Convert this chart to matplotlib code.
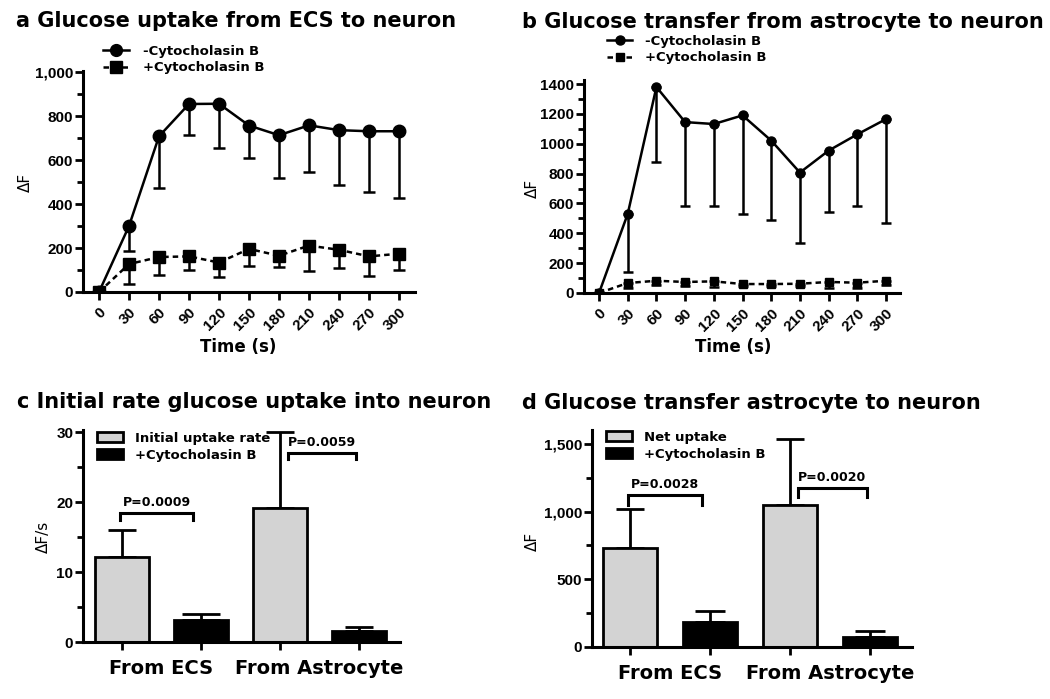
import matplotlib
matplotlib.use("Agg")
import matplotlib.pyplot as plt
from matplotlib.lines import Line2D
from matplotlib.ticker import MultipleLocator, FuncFormatter

# ---------------- data ----------------
time_s = [0, 30, 60, 90, 120, 150, 180, 210, 240, 270, 300]

a_minus_mean = [0, 300, 708, 855, 856, 757, 713, 758, 736, 731, 731]
a_minus_err = [0, 113, 234, 142, 200, 147, 193, 213, 251, 275, 305]
a_plus_mean = [0, 127, 159, 162, 134, 196, 165, 211, 192, 162, 174]
a_plus_err = [0, 91, 80, 61, 65, 80, 52, 114, 85, 91, 74]

b_minus_mean = [0, 530, 1380, 1145, 1132, 1190, 1021, 807, 954, 1063, 1165]
b_minus_err = [0, 392, 504, 559, 546, 660, 531, 473, 408, 477, 697]
b_plus_mean = [0, 67, 82, 74, 78, 60, 60, 62, 74, 69, 82]
b_plus_err = [0, 35, 26, 25, 40, 15, 15, 17, 43, 38, 26]

series_labels = ["-Cytocholasin B", "+Cytocholasin B"]
groups = ["From ECS", "From Astrocyte"]

c_ctrl_mean = [12.15, 19.2]
c_ctrl_err = [3.85, 10.8]
c_cyto_mean = [3.18, 1.52]
c_cyto_err = [0.85, 0.57]
c_pvals = ["P=0.0009", "P=0.0059"]
c_bracket_y = [18.46, 27.0]
c_bracket_drop = [1.0, 0.9]

d_ctrl_mean = [735, 1048]
d_ctrl_err = [281, 487]
d_cyto_mean = [185, 74]
d_cyto_err = [81, 42]
d_pvals = ["P=0.0028", "P=0.0020"]
d_bracket_y = [1122, 1172]
d_bracket_drop = [74, 62]

# ---------------- style ----------------
W, H = 1050, 699
fig = plt.figure(figsize=(W / 100, H / 100), dpi=100)
BOLD = dict(family="DejaVu Sans", weight="bold")
TICKF = dict(family="Liberation Sans", weight="bold", size=11)
GRAY = "#d3d3d3"
DASH = (0, (2.2, 1.6))
TITLE_FS = 15


def add_ax(l, t, r, b):
    return fig.add_axes([l / W, 1 - b / H, (r - l) / W, (b - t) / H])


def style_ax(ax):
    for s in ("top", "right"):
        ax.spines[s].set_visible(False)
    for s in ("left", "bottom"):
        ax.spines[s].set_linewidth(2.2)
    ax.tick_params(which="major", direction="out", length=6, width=2)
    ax.tick_params(which="minor", direction="out", length=4, width=2)
    ax.tick_params(axis="y", which="major", pad=1)
    for lab in ax.get_yticklabels() + ax.get_xticklabels():
        lab.set_fontfamily(TICKF["family"])
        lab.set_fontweight("bold")
        lab.set_fontsize(TICKF["size"])


def ftext(x, y, s, **kw):
    return fig.text(x / W, 1 - y / H, s, **kw)


comma = FuncFormatter(lambda v, p: f"{int(round(v)):,}")
plain = FuncFormatter(lambda v, p: f"{int(round(v))}")


def line_panel(ax, mm, me, pm, pe, ylim, ymajor, fmt, msz):
    ax.errorbar(time_s, mm, yerr=[me, [0] * len(me)], color="black", lw=1.8,
                marker="o", ms=msz, capsize=msz * 0.5, elinewidth=1.8,
                capthick=1.8, zorder=3)
    ax.errorbar(time_s, pm, yerr=[pe, [0] * len(pe)], color="black", lw=1.8,
                ls=DASH, marker="s", ms=msz * 0.95,
                capsize=msz * 0.5, elinewidth=1.8, capthick=1.8, zorder=3)
    ax.set_ylim(*ylim)
    ax.yaxis.set_major_locator(MultipleLocator(ymajor))
    ax.yaxis.set_minor_locator(MultipleLocator(ymajor / 2))
    ax.yaxis.set_major_formatter(fmt)
    ax.set_xticks(time_s)
    ax.set_xticklabels([str(t) for t in time_s], rotation=45, ha="right",
                       va="top", rotation_mode="anchor")
    style_ax(ax)


def line_legend(anchor, msz, hl):
    handles = [Line2D([], [], color="black", lw=1.8, marker="o", ms=msz),
               Line2D([], [], color="black", lw=1.8, ls=DASH, marker="s",
                      ms=msz * 0.95)]
    fig.legend(handles, series_labels, loc="upper left",
               bbox_to_anchor=anchor, frameon=False,
               prop=dict(family="DejaVu Sans", weight="bold", size=9.5),
               handlelength=hl, handletextpad=1.0, labelspacing=0.25,
               borderpad=0, borderaxespad=0)


# ---------------- panel a ----------------
axa = add_ax(83, 71, 415, 292)
axa.set_xlim(-16, 316)
line_panel(axa, a_minus_mean, a_minus_err, a_plus_mean, a_plus_err,
           (0, 1005), 200, comma, 9)
ftext(16, 21, "a Glucose uptake from ECS to neuron", fontsize=TITLE_FS, va="center", **BOLD)
ftext(25, 182, "ΔF", rotation=90, ha="center", va="center", fontsize=11, family="DejaVu Sans")
ftext(238, 347, "Time (s)", ha="center", va="center", fontsize=12, **BOLD)
line_legend((103 / W, 1 - 45 / H), 8.5, 2.0)

# ---------------- panel b ----------------
axb = add_ax(584, 80, 900, 293)
axb.set_xlim(-15.7, 314.6)
line_panel(axb, b_minus_mean, b_minus_err, b_plus_mean, b_plus_err,
           (0, 1427), 200, plain, 6.5)
ftext(522, 22, "b Glucose transfer from astrocyte to neuron", fontsize=TITLE_FS, va="center", **BOLD)
ftext(532, 188, "ΔF", rotation=90, ha="center", va="center", fontsize=11, family="DejaVu Sans")
ftext(733, 347, "Time (s)", ha="center", va="center", fontsize=12, **BOLD)
line_legend((607 / W, 1 - 35 / H), 6.5, 1.9)


# ---------------- bar panels ----------------
def bar_panel(ax, cm, ce, km, ke, pvals, by, bdrop, ylim, ymajor, fmt,
              legend_labels, leg_anchor, caps):
    x_ctrl = [0, 2]
    x_cyto = [1, 3]
    width = 0.68
    for i in range(2):
        ax.errorbar(x_ctrl[i], cm[i], yerr=[[0], [ce[i]]], color="black",
                    elinewidth=2, capthick=2, capsize=caps[0][i], zorder=1)
        ax.errorbar(x_cyto[i], km[i], yerr=[[0], [ke[i]]], color="black",
                    elinewidth=2, capthick=2, capsize=caps[1][i], zorder=1)
    b1 = ax.bar(x_ctrl, cm, width=width, color=GRAY, edgecolor="black",
                linewidth=2, zorder=2)
    b2 = ax.bar(x_cyto, km, width=width, color="black", edgecolor="black",
                linewidth=2, zorder=2)
    ax.set_ylim(*ylim)
    ax.set_xlim(-0.49, 3.52)
    ax.yaxis.set_major_locator(MultipleLocator(ymajor))
    ax.yaxis.set_minor_locator(MultipleLocator(ymajor / 2))
    ax.yaxis.set_major_formatter(fmt)
    ax.set_xticks([0, 1, 2, 3])
    ax.set_xticklabels([])
    ax.set_xticks([0.5, 2.5], minor=True)
    ax.set_xticklabels(groups, minor=True)
    style_ax(ax)
    ax.tick_params(axis="x", which="minor", length=0, pad=12)
    for lab in ax.get_xticklabels(minor=True):
        lab.set_fontfamily("DejaVu Sans")
        lab.set_fontweight("bold")
        lab.set_fontsize(14)
    # significance brackets
    for i in range(2):
        x0 = x_ctrl[i] - 0.02 + (0.12 if i == 1 else 0)
        x1 = x_cyto[i] - 0.1 + (0.06 if i == 1 else 0)
        y = by[i]
        ax.plot([x0, x0, x1, x1], [y - bdrop[i], y, y, y - bdrop[i]],
                color="black", lw=2.2, solid_joinstyle="miter", zorder=4)
        ax.text((x0 + x1) / 2, y + (ylim[1] * 0.018), pvals[i], ha="center",
                va="bottom", fontsize=9, **BOLD)
    fig.legend([b1, b2], legend_labels, loc="upper left",
               bbox_to_anchor=leg_anchor, frameon=False,
               prop=dict(family="DejaVu Sans", weight="bold", size=9.5),
               handlelength=2.0, handleheight=0.8, handletextpad=0.9,
               labelspacing=0.3, borderpad=0, borderaxespad=0)


axc = add_ax(83, 430, 400, 642)
bar_panel(axc, c_ctrl_mean, c_ctrl_err, c_cyto_mean, c_cyto_err, c_pvals,
          c_bracket_y, c_bracket_drop, (0, 30.3), 10, plain,
          ["Initial uptake rate", "+Cytocholasin B"], (97 / W, 1 - 432 / H),
          [[10, 10], [13.5, 10]])
ftext(17, 402, "c Initial rate glucose uptake into neuron", fontsize=TITLE_FS, va="center", **BOLD)
ftext(43, 537, "ΔF/s", rotation=90, ha="center", va="center", fontsize=11, family="DejaVu Sans")

axd = add_ax(592, 430, 912, 647)
bar_panel(axd, d_ctrl_mean, d_ctrl_err, d_cyto_mean, d_cyto_err, d_pvals,
          d_bracket_y, d_bracket_drop, (0, 1603), 500, comma,
          ["Net uptake", "+Cytocholasin B"], (606 / W, 1 - 431 / H),
          [[10, 10], [11, 11]])
axd.set_xlim(-0.475, 3.525)
ftext(522, 403, "d Glucose transfer astrocyte to neuron", fontsize=TITLE_FS, va="center", **BOLD)
ftext(532, 541, "ΔF", rotation=90, ha="center", va="center", fontsize=11, family="DejaVu Sans")

fig.savefig("out.png", dpi=100)
